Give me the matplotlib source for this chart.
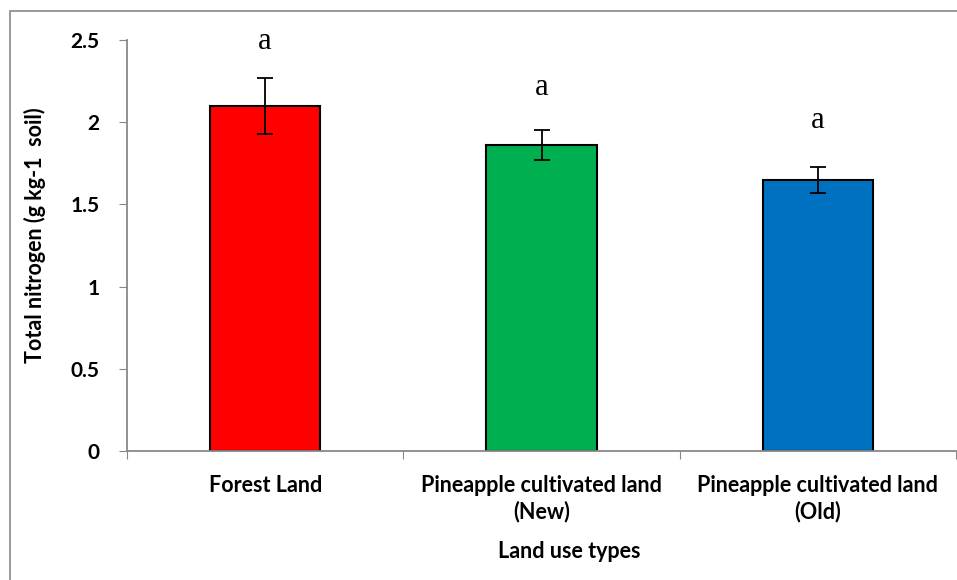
import matplotlib
matplotlib.use("Agg")
import matplotlib.pyplot as plt
from matplotlib.patches import Rectangle

categories = ["Forest Land", "Pineapple cultivated land\n(New)", "Pineapple cultivated land\n(Old)"]
values = [2.10, 1.86, 1.65]
errors = [0.17, 0.09, 0.08]
colors = ["#FF0000", "#00B050", "#0070C0"]
letters = ["a", "a", "a"]
letter_y = [2.49, 2.21, 2.01]
yticks = [0, 0.5, 1, 1.5, 2, 2.5]
ytick_labels = ["0", "0.5", "1", "1.5", "2", "2.5"]

plt.rcParams['font.family'] = ['Lato', 'DejaVu Sans']

fig = plt.figure(figsize=(9.57, 5.80), dpi=100)
ax = fig.add_axes([127/957, 1-451/580, (956-127)/957, (451-40)/580])

x = list(range(len(categories)))
ax.bar(x, values, width=0.4, color=colors, edgecolor="black", linewidth=1.5, zorder=2)
ax.errorbar(x, values, yerr=errors, fmt="none", ecolor="black", elinewidth=1.3,
            capsize=5.5, capthick=1.3, zorder=3)
for xi, t, ty in zip(x, letters, letter_y):
    ax.text(xi, ty, t, ha="center", va="center", fontsize=22, family="Liberation Serif")

ax.set_xlim(-0.5, 2.5)
ax.set_ylim(0, 2.5)
ax.set_yticks(yticks)
ax.set_yticklabels(ytick_labels, fontsize=15, fontweight="bold")
ax.set_xticks([-0.5, 0.5, 1.5, 2.5])
ax.set_xticklabels([])
ax.set_xticks(x, minor=True)
ax.set_xticklabels(categories, minor=True, fontsize=15.5, fontweight="bold", linespacing=1.3)
ax.tick_params(axis="x", which="minor", length=0, pad=17)
ax.tick_params(axis="x", which="major", length=6, color="#888888", direction="out")
ax.tick_params(axis="y", length=6, color="#888888", direction="out", pad=14)

for s in ["top", "right"]:
    ax.spines[s].set_visible(False)
for s in ["left", "bottom"]:
    ax.spines[s].set_color("#888888")
    ax.spines[s].set_linewidth(1.3)

ax.set_ylabel("Total nitrogen (g kg-1  soil)", fontsize=15.5, fontweight="bold")
ax.yaxis.set_label_coords(-(127-46)/(956-127), (451-235)/411)
fig.text(569/957, 1-552/580, "Land use types", ha="center", va="center", fontsize=15.5, fontweight="bold")

fig.patches.append(Rectangle((10/957, -0.1), 1.2, 1-11/580+0.1, transform=fig.transFigure,
                             fill=False, edgecolor="#888888", linewidth=1.2))

fig.savefig("out.png", dpi=100)
